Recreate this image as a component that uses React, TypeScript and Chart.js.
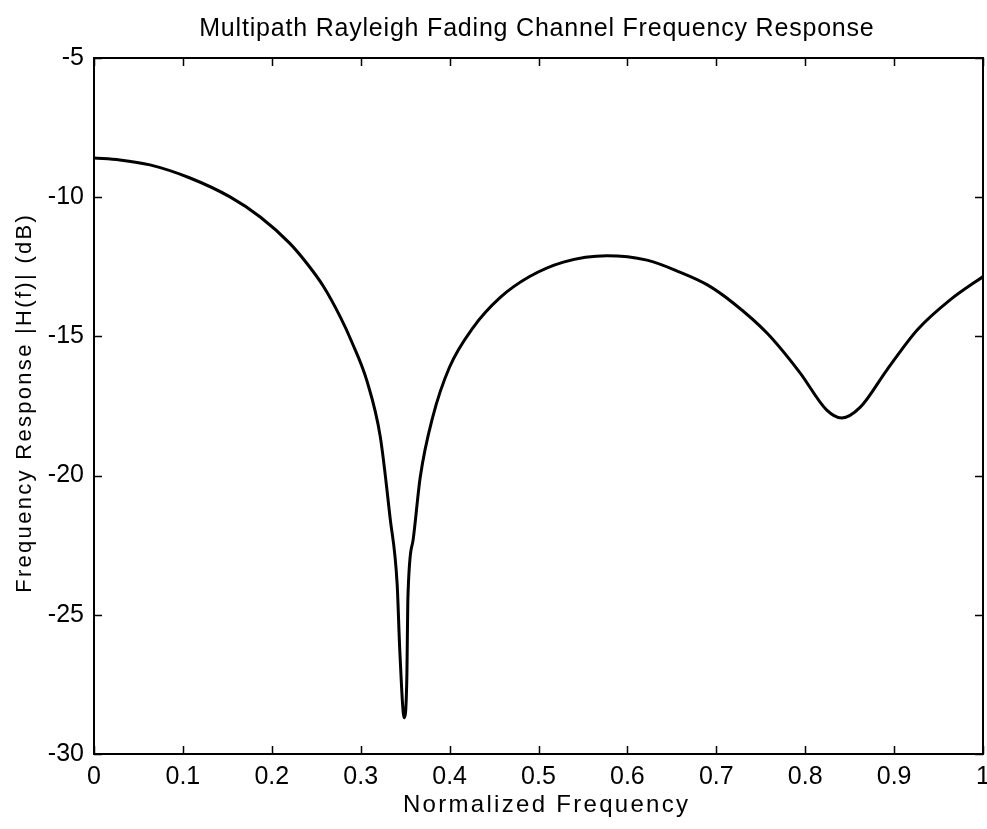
import React, { useEffect, useRef } from "react";
import { Chart, registerables } from "chart.js";

Chart.register(...registerables);

const TITLE = "Multipath Rayleigh Fading Channel Frequency Response";
const X_LABEL = "Normalized Frequency";
const Y_LABEL = "Frequency Response |H(f)| (dB)";

const freq = [
  0.0, 0.029, 0.063, 0.108, 0.153, 0.187, 0.22, 0.24, 0.258, 0.277, 0.29,
  0.307, 0.322, 0.333, 0.341, 0.344, 0.349, 0.352, 0.353, 0.359, 0.367,
  0.381, 0.4, 0.426, 0.457, 0.49, 0.528, 0.577, 0.622, 0.659, 0.69, 0.719,
  0.757, 0.794, 0.824, 0.841, 0.862, 0.892, 0.926, 0.963, 1.0,
];
const responseDb = [
  -8.59, -8.66, -8.84, -9.31, -9.99, -10.71, -11.65, -12.4, -13.2, -14.3,
  -15.2, -16.6, -18.6, -21.5, -23.9, -26.3, -28.7, -27.1, -24.5, -22.3,
  -20.05, -17.9, -16.1, -14.7, -13.6, -12.85, -12.33, -12.1, -12.26, -12.69,
  -13.15, -13.8, -14.88, -16.3, -17.64, -17.93, -17.54, -16.2, -14.77,
  -13.69, -12.85,
];
const xTicks = [0, 0.1, 0.2, 0.3, 0.4, 0.5, 0.6, 0.7, 0.8, 0.9, 1];
const yTicks = [-30, -25, -20, -15, -10, -5];

const FONT = "'Liberation Sans', Arial, Helvetica, sans-serif";

function spacedText(ctx: any, text: string, x: number, y: number, spacing: number) {
  ctx.letterSpacing = `${spacing}px`;
  const w = ctx.measureText(text).width - spacing;
  ctx.textAlign = "left";
  ctx.fillText(text, x - w / 2, y);
  ctx.letterSpacing = "0px";
}

const frameAndTicks = {
  id: "frameAndTicks",
  afterDatasetsDraw(chart: any) {
    const { ctx, chartArea, scales } = chart;
    const { left, right, top, bottom } = chartArea;
    const len = 8;
    ctx.save();
    ctx.strokeStyle = "#000";
    ctx.lineWidth = 1.5;
    ctx.beginPath();
    for (const v of xTicks) {
      const x = Math.round(scales.x.getPixelForValue(v)) + 0.5;
      ctx.moveTo(x, bottom);
      ctx.lineTo(x, bottom - len);
      ctx.moveTo(x, top);
      ctx.lineTo(x, top + len);
    }
    for (const v of yTicks) {
      const y = Math.round(scales.y.getPixelForValue(v)) + 0.5;
      ctx.moveTo(left, y);
      ctx.lineTo(left + len, y);
      ctx.moveTo(right, y);
      ctx.lineTo(right - len, y);
    }
    ctx.stroke();
    ctx.lineWidth = 2;
    ctx.strokeRect(left, top, right - left, bottom - top);
    ctx.restore();
  },
  afterDraw(chart: any) {
    const { ctx, chartArea } = chart;
    const cx = (chartArea.left + chartArea.right) / 2;
    const cy = (chartArea.top + chartArea.bottom) / 2;
    ctx.save();
    ctx.fillStyle = "#000";
    ctx.textBaseline = "alphabetic";
    ctx.font = `25px ${FONT}`;
    spacedText(ctx, TITLE, cx - 2, 36, 0.8);
    ctx.font = `24px ${FONT}`;
    spacedText(ctx, X_LABEL, cx + 7, 812, 2.3);
    ctx.save();
    ctx.translate(31, cy - 2);
    ctx.rotate(-Math.PI / 2);
    ctx.font = `22px ${FONT}`;
    spacedText(ctx, Y_LABEL, 0, 0, 2.3);
    ctx.restore();
    ctx.restore();
  },
};

export default function App() {
  const ref = useRef<HTMLCanvasElement>(null);
  useEffect(() => {
    if (!ref.current) return;
    const chart = new Chart(ref.current, {
      type: "line",
      data: {
        datasets: [
          {
            data: freq.map((f, i) => ({ x: f, y: responseDb[i] })),
            borderColor: "#000",
            borderWidth: 3,
            pointRadius: 0,
            fill: false,
            cubicInterpolationMode: "monotone",
          },
        ],
      },
      options: {
        responsive: false,
        animation: false,
        layout: { padding: { top: 58, right: 4, left: 0, bottom: 0 } },
        plugins: {
          legend: { display: false },
          tooltip: { enabled: false },
          title: { display: false },
        },
        scales: {
          x: {
            type: "linear",
            min: 0,
            max: 1,
            grid: { display: false, drawTicks: false },
            border: { display: false },
            afterBuildTicks: (s: any) => {
              s.ticks = xTicks.map((v) => ({ value: v }));
            },
            afterFit: (s: any) => {
              s.height = 75;
              s.paddingLeft = 0;
              s.paddingRight = 0;
            },
            ticks: {
              color: "#000",
              font: { size: 25, family: FONT },
              padding: 8,
              maxRotation: 0,
              autoSkip: false,
              callback: (v: any) => String(Number(v)),
            },
            title: { display: false },
          },
          y: {
            type: "linear",
            min: -30,
            max: -5,
            grid: { display: false, drawTicks: false },
            border: { display: false },
            afterBuildTicks: (s: any) => {
              s.ticks = yTicks.map((v) => ({ value: v }));
            },
            afterFit: (s: any) => {
              s.width = 94;
              s.paddingTop = 0;
              s.paddingBottom = 0;
            },
            ticks: {
              color: "#000",
              font: { size: 25, family: FONT },
              padding: 10,
              autoSkip: false,
              callback: (v: any) => String(Number(v)),
            },
            title: { display: false },
          },
        },
      },
      plugins: [frameAndTicks],
    });
    return () => chart.destroy();
  }, []);
  return (
    <div style={{ position: "fixed", left: 0, top: 0, width: 987, height: 829, background: "#fff" }}>
      <canvas ref={ref} width={987} height={829} />
    </div>
  );
}
